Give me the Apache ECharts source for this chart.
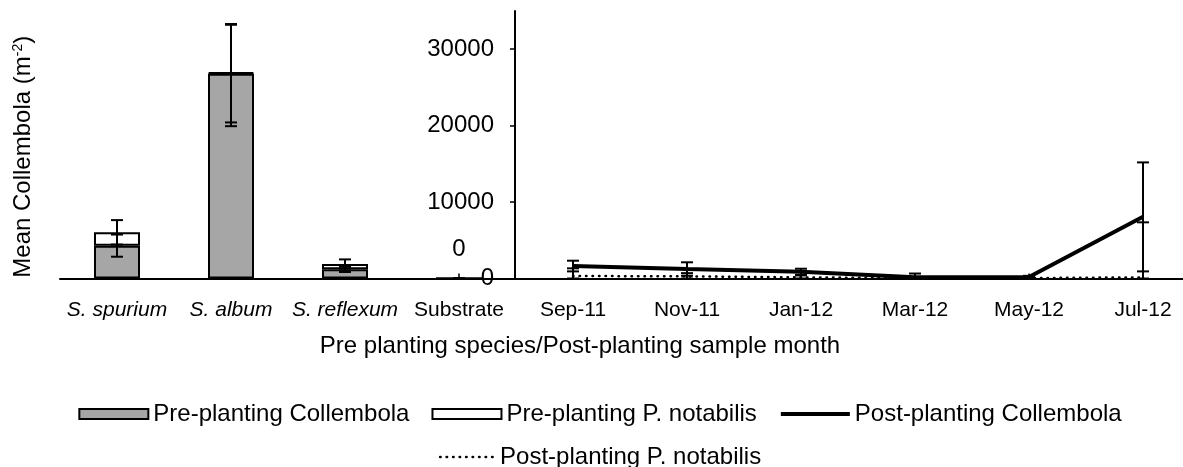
<!DOCTYPE html>
<html>
<head>
<meta charset="utf-8">
<script src="https://cdn.jsdelivr.net/npm/echarts@6/dist/echarts.min.js"></script>
<style>
html,body{margin:0;padding:0;overflow:hidden;background:#fff;width:1183px;height:467px}
#c{width:1200px;height:467px}
</style>
</head>
<body>
<div id="c"></div>
<script>
const categories = ['S. spurium', 'S. album', 'S. reflexum', 'Substrate', 'Sep-11', 'Nov-11', 'Jan-12', 'Mar-12', 'May-12', 'Jul-12'];
const italicCount = 3;
const yTicks = [0, 10000, 20000, 30000];

// Pre-planting (stacked bars)
const preCollembola = [4300, 26800, 1200, 0, null, null, null, null, null, null];
const prePnotabilis = [1750, 150, 700, 0, null, null, null, null, null, null];
// error bar ends (absolute values)
const preCollErrLow  = [2850, 20420, 850, 0];
const preCollErrHigh = [5750, 33200, 1550, 0];
const prePnotErrLow  = [4440, 19930, 1300, 0];
const prePnotErrHigh = [7640, 33300, 2500, 0];

// Post-planting (lines)
const postCollembola = [null, null, null, null, 1630, 1240, 880, 150, 200, 8080];
const postPnotabilis = [null, null, null, null, 330, 280, 150, 60, 60, 150];
const postCollErrLow  = [null, null, null, null, 930, 360, 480, 0, 50, 930];
const postCollErrHigh = [null, null, null, null, 2330, 2120, 1280, 650, 350, 15190];
const postPnotErrLow  = [null, null, null, null, 0, 0, 0, 0, 0, 0];
const postPnotErrHigh = [null, null, null, null, 1330, 700, 400, 150, 150, 7350];

const FONT = 'Liberation Sans, Arial, sans-serif';

function errData(low, high) {
  const out = [];
  low.forEach((l, i) => {
    if (l !== null && l !== undefined && high[i] !== null && high[i] !== undefined) out.push([i, l, high[i]]);
  });
  return out;
}

function errRender(params, api) {
  const x = api.value(0);
  const lo = api.coord([x, api.value(1)]);
  const hi = api.coord([x, api.value(2)]);
  const cw = 6;
  const st = { stroke: '#000', lineWidth: 2 };
  return {
    type: 'group',
    children: [
      { type: 'line', shape: { x1: lo[0], y1: lo[1], x2: hi[0], y2: hi[1] }, style: st },
      { type: 'line', shape: { x1: lo[0] - cw, y1: lo[1], x2: lo[0] + cw, y2: lo[1] }, style: st },
      { type: 'line', shape: { x1: hi[0] - cw, y1: hi[1], x2: hi[0] + cw, y2: hi[1] }, style: st }
    ]
  };
}

const preCollData = preCollembola.map((v, i) => {
  if (i === 3) {
    return { value: v, label: { show: true, position: 'top', distance: 16, fontSize: 24, color: '#000', fontFamily: FONT } };
  }
  return v;
});

const chart = echarts.init(document.getElementById('c'), null, { renderer: 'canvas' });
chart.setOption({
  animation: false,
  backgroundColor: '#fff',
  textStyle: { fontFamily: FONT, color: '#000' },
  grid: { left: 60, right: 0, top: 11, bottom: 188.5, containLabel: false },
  legend: [
    {
      data: [
        { name: 'Pre-planting Collembola', icon: 'rect' },
        { name: 'Pre-planting P. notabilis', icon: 'rect' },
        { name: 'Post-planting Collembola', itemStyle: { opacity: 0 }, lineStyle: { width: 4, color: '#000' } }
      ],
      left: 'center', top: 397, itemWidth: 69, itemHeight: 10, itemGap: 22,
      textStyle: { fontSize: 24, color: '#000', fontFamily: FONT },
      selectedMode: false
    },
    {
      data: [{ name: 'Post-planting P. notabilis', itemStyle: { opacity: 0 }, lineStyle: { width: 2.5, color: '#000', type: [0.5, 6], cap: 'round' } }],
      left: 'center', top: 440, itemWidth: 55, itemHeight: 10, itemGap: 20,
      textStyle: { fontSize: 24, color: '#000', fontFamily: FONT },
      selectedMode: false
    }
  ],
  xAxis: {
    type: 'category',
    data: categories,
    boundaryGap: true,
    axisLine: { lineStyle: { color: '#000', width: 2 } },
    axisTick: { show: true, inside: true, alignWithLabel: true, length: 5, lineStyle: { color: '#000', width: 1.5 } },
    axisLabel: {
      interval: 0, margin: 21, fontSize: 21, color: '#000', fontFamily: FONT,
      formatter: (v, idx) => idx < italicCount ? '{i|' + v + '}' : v,
      rich: { i: { fontStyle: 'italic', fontSize: 21, color: '#000', fontFamily: FONT } }
    },
    name: 'Pre planting species/Post-planting sample month',
    nameLocation: 'middle',
    nameGap: 56,
    nameTextStyle: { fontSize: 24, color: '#000', fontFamily: FONT, padding: [0, 100, 0, 0] }
  },
  yAxis: [
    {
      type: 'value',
      min: 0, max: 35000, interval: 10000,
      position: 'left',
      offset: -455,
      axisLine: { show: true, onZero: false, lineStyle: { color: '#000', width: 2 } },
      axisTick: { show: true, inside: false, length: 5, lineStyle: { color: '#000', width: 1.5 }, customValues: yTicks },
      axisLabel: { margin: 21, fontSize: 24, color: '#000', fontFamily: FONT, customValues: yTicks, formatter: v => String(v) },
      splitLine: { show: false }
    },
    {
      type: 'value',
      min: 0, max: 35000,
      position: 'left',
      offset: 0,
      axisLine: { show: false },
      axisTick: { show: false },
      axisLabel: { show: false },
      splitLine: { show: false },
      name: '{a|Mean Collembola (m}{s|-2}{a|)}',
      nameLocation: 'middle',
      nameRotate: 90,
      nameGap: 25,
      nameTextStyle: {
        color: '#000',
        padding: [0, 24, 0, 0],
        rich: {
          a: { fontSize: 24, color: '#000', fontFamily: FONT },
          s: { fontSize: 14, color: '#000', fontFamily: FONT, verticalAlign: 'top' }
        }
      }
    }
  ],
  series: [
    {
      name: 'Pre-planting Collembola',
      type: 'bar',
      stack: 'pre',
      barWidth: 46,
      data: preCollData,
      itemStyle: { color: '#a6a6a6', borderColor: '#000', borderWidth: 2 },
      z: 2
    },
    {
      name: 'Pre-planting P. notabilis',
      type: 'bar',
      stack: 'pre',
      barWidth: 46,
      data: prePnotabilis,
      itemStyle: { color: '#ffffff', borderColor: '#000', borderWidth: 2 },
      z: 2
    },
    {
      name: 'Post-planting Collembola',
      type: 'line',
      data: postCollembola,
      symbol: 'none',
      showSymbol: false,
      lineStyle: { color: '#000', width: 4 },
      itemStyle: { color: '#000' },
      z: 4
    },
    {
      name: 'Post-planting P. notabilis',
      type: 'line',
      data: postPnotabilis,
      symbol: 'none',
      showSymbol: false,
      lineStyle: { color: '#000', width: 2.5, type: [0.5, 6], cap: 'round' },
      itemStyle: { color: '#000' },
      z: 3
    },
    {
      type: 'custom',
      renderItem: errRender,
      data: errData(preCollErrLow, preCollErrHigh),
      encode: { x: 0, y: [1, 2] },
      z: 5, silent: true
    },
    {
      type: 'custom',
      renderItem: errRender,
      data: errData(prePnotErrLow, prePnotErrHigh),
      encode: { x: 0, y: [1, 2] },
      z: 5, silent: true
    },
    {
      type: 'custom',
      renderItem: errRender,
      data: errData(postCollErrLow, postCollErrHigh),
      encode: { x: 0, y: [1, 2] },
      z: 5, silent: true
    },
    {
      type: 'custom',
      renderItem: errRender,
      data: errData(postPnotErrLow, postPnotErrHigh),
      encode: { x: 0, y: [1, 2] },
      z: 5, silent: true
    }
  ]
});
</script>
</body>
</html>
